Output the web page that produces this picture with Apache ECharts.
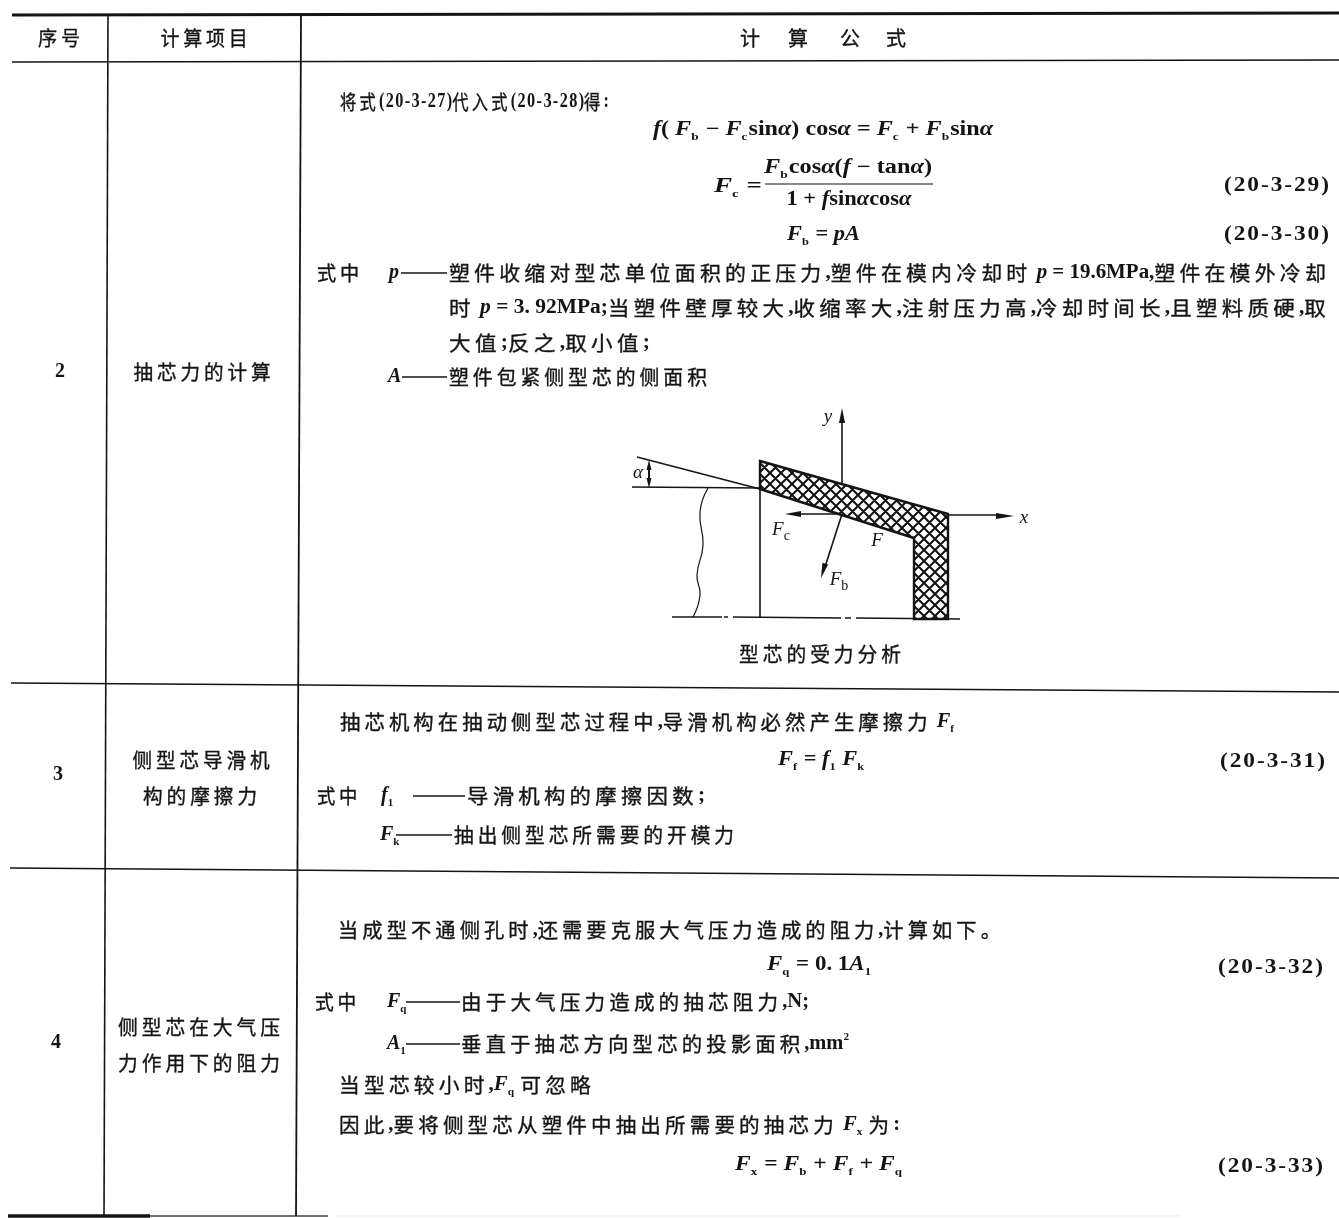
<!DOCTYPE html>
<html lang="zh">
<head>
<meta charset="utf-8">
<style>
html,body{margin:0;padding:0;background:#fff;}
#chart{width:1339px;height:1218px;filter:blur(0.5px);}
</style>
<script src="https://cdn.jsdelivr.net/npm/echarts@6/dist/echarts.min.js"></script>
</head>
<body>
<div id="chart"></div>
<script>
/* ---------- content ---------- */
const tableHeaders = ['序号', '计算项目', '计', '算', '公', '式'];
const serialNumbers = ['2', '3', '4'];
const itemNames = ['抽芯力的计算', '侧型芯导滑机', '构的摩擦力', '侧型芯在大气压', '力作用下的阻力'];
const equationNumbers = ['(20-3-29)', '(20-3-30)', '(20-3-31)', '(20-3-32)', '(20-3-33)'];
const row2Lines = [
  '将式(20-3-27)代入式(20-3-28)得:',
  '*f*( *F*~b~ − *F*~c~sin*α*) cos*α* = *F*~c~ + *F*~b~sin*α*',
  '*F*~c~ =',
  '*F*~b~cos*α*(*f* − tan*α*)',
  '1 + *f*sin*α*cos*α*',
  '*F*~b~ = *pA*',
  '式中',
  '*p*',
  '塑件收缩对型芯单位面积的正压力,塑件在模内冷却时 *p* = 19.6MPa,塑件在模外冷却',
  '时 *p* = 3. 92MPa;当塑件壁厚较大,收缩率大,注射压力高,冷却时间长,且塑料质硬,取',
  '大值;反之,取小值;',
  '*A*',
  '塑件包紧侧型芯的侧面积'
];
const row3Lines = [
  '抽芯机构在抽动侧型芯过程中,导滑机构必然产生摩擦力 *F*~f~',
  '*F*~f~ = *f*~1~ *F*~k~',
  '式中',
  '*f*~1~',
  '导滑机构的摩擦因数;',
  '*F*~k~',
  '抽出侧型芯所需要的开模力'
];
const row4Lines = [
  '当成型不通侧孔时,还需要克服大气压力造成的阻力,计算如下。',
  '*F*~q~ = 0. 1*A*~1~',
  '式中',
  '*F*~q~',
  '由于大气压力造成的抽芯阻力,N;',
  '*A*~1~',
  '垂直于抽芯方向型芯的投影面积,mm^2^',
  '当型芯较小时,*F*~q~ 可忽略',
  '因此,要将侧型芯从塑件中抽出所需要的抽芯力 *F*~x~ 为:',
  '*F*~x~ = *F*~b~ + *F*~f~ + *F*~q~'
];
const figureCaption = '型芯的受力分析';
const figureLabels = ['y', 'α', 'x', 'F', 'F', 'F'];

/* ---------- layout ---------- */
const INK = '#141414';
const CJK = '"Noto Sans CJK SC"';
const SERIF = '"Liberation Serif"';
const richStyles = {
  c: {fontFamily: CJK, fontSize: 20, fill: INK, stroke: INK, lineWidth: 0.35},
  l: {fontFamily: SERIF, fontSize: 20, fontWeight: 'bold', fill: INK},
  i: {fontFamily: SERIF, fontSize: 20, fontWeight: 'bold', fontStyle: 'italic', fill: INK},
  s: {fontFamily: SERIF, fontSize: 11, fontWeight: 'bold', fill: INK, verticalAlign: 'bottom', lineHeight: 25},
  u: {fontFamily: SERIF, fontSize: 11, fontWeight: 'bold', fill: INK, verticalAlign: 'top', lineHeight: 25}
};
const isCjk = ch => /[\u3000-\u9fff]/.test(ch);
const join = (s, sep) => Array.from(s).join(sep);
function plainRuns(s, sep) {
  let out = '', buf = '', kind = null;
  const flush = () => {
    if (!buf) return;
    out += kind === 'c' ? '{c|' + join(buf, '\u2009') + '\u2009}' : '{l|' + (sep ? join(buf, sep) : buf) + '}';
    buf = '';
  };
  for (const ch of s) {
    const k = isCjk(ch) ? 'c' : 'l';
    if (k !== kind) { flush(); kind = k; }
    buf += ch;
  }
  flush();
  return out;
}
function markup(s, sep) {
  return s.replace(/\*([^*]+)\*|~([^~]+)~|\^([^^]+)\^|([^*~^]+)/g, (m, it, sub, sup, plain) => {
    if (it) return '{i|' + it + '}';
    if (sub) return '{s|' + sub + '\u200a}';
    if (sup) return '{u|' + sup + '}';
    return plainRuns(plain, sep);
  });
}
const measureCtx = document.createElement('canvas').getContext('2d');
function measure(rich) {
  let w = 0;
  rich.replace(/\{(\w)\|([^}]*)\}/g, (m, k, t) => {
    const st = richStyles[k];
    measureCtx.font = (st.fontStyle || 'normal') + ' ' + (st.fontWeight || 'normal') + ' ' + st.fontSize + 'px ' + st.fontFamily;
    w += measureCtx.measureText(t).width;
    return m;
  });
  return w;
}
/* text at x, vertical middle y; w = width it occupies in the page */
function T(str, x, y, w, align) {
  const text = markup(str, str.indexOf('(20-3') >= 0 ? '\u200a' : '');
  return {
    type: 'text', x: x, y: y, z: 5, silent: true,
    scaleX: w ? w / measure(text) : 1,
    style: {
      text: text, rich: richStyles, align: align || 'left', verticalAlign: 'middle',
      fill: INK, fontFamily: SERIF, fontSize: 20
    }
  };
}
function L(x1, y1, x2, y2, w, c) {
  return {type: 'line', z: 3, silent: true, shape: {x1, y1, x2, y2},
          style: {stroke: c || INK, lineWidth: w || 1.5}};
}
function arrow(x, y, dx, dy, len, half) {
  const n = Math.hypot(dx, dy), ux = dx / n, uy = dy / n;
  return {type: 'polygon', z: 6, silent: true,
    shape: {points: [[x, y], [x - ux * len - uy * half, y - uy * len + ux * half],
                     [x - ux * len + uy * half, y - uy * len - ux * half]]},
    style: {fill: INK}};
}
function hatchPattern() {
  const c = document.createElement('canvas'); c.width = 11; c.height = 11;
  const g = c.getContext('2d');
  g.fillStyle = '#fff'; g.fillRect(0, 0, 11, 11);
  g.strokeStyle = '#141414'; g.lineWidth = 2.1;
  g.beginPath();
  for (let k = -11; k <= 22; k += 11) {
    g.moveTo(k, 0); g.lineTo(k + 11, 11);
    g.moveTo(k + 11, 0); g.lineTo(k, 11);
  }
  g.stroke();
  return c;
}

const els = [];
/* rules */
els.push(L(12, 15, 1339, 13, 3));
els.push(L(12, 62, 1339, 60, 1.7));
els.push(L(11, 683, 1339, 692, 1.7));
els.push(L(10, 868, 1339, 878, 1.7));
els.push(L(8, 1216, 150, 1216, 3.4), L(150, 1216, 328, 1216, 1.6, '#444'), L(335, 1216, 1180, 1216, 1, '#e6e6e6'));
els.push(L(108, 15, 104, 1216, 1.6));
els.push(L(301, 15, 296, 1216, 1.8));
/* header */
els.push(T(tableHeaders[0], 61, 38, 46, 'center'), T(tableHeaders[1], 206, 38, 91, 'center'));
[752, 800, 852, 898].forEach((x, i) => els.push(T(tableHeaders[i + 2], x, 38, 0, 'center')));
/* serials + items */
[[60, 372], [58, 775], [56, 1043]].forEach((p, i) => els.push(T(serialNumbers[i], p[0], p[1], 0, 'center')));
[[204, 372, 141], [203, 760, 141], [202, 796, 118], [201, 1027, 166], [201, 1063, 166]]
  .forEach((p, i) => els.push(T(itemNames[i], p[0], p[1], p[2], 'center')));
/* equation numbers */
[[186, 1329], [235, 1329], [762, 1325], [968, 1323], [1167, 1323]].forEach((p, i) => {
  els.push(T(equationNumbers[i], p[1], p[0], 105, 'right'));
});
/* dashes */
const dash = (x1, x2, y) => L(x1, y, x2, y, 1.4);
els.push(dash(401, 447, 273), dash(402, 447, 377), dash(413, 465, 796), dash(396, 452, 835), dash(406, 460, 1002), dash(406, 460, 1044));
/* row 2 */
const row2Pos = [[340, 102, 269], [653, 130, 340], [714, 187, 48], [848, 168, 168, 'center'], [849, 200, 125, 'center'], [787, 235, 73],
  [317, 273, 46], [389, 273], [449, 273, 881], [449, 308, 881], [449, 343, 201], [388, 377], [449, 377, 262]];
row2Lines.forEach((s, i) => { const p = row2Pos[i]; els.push(T(s, p[0], p[1], p[2], p[3])); });
els.push(L(765, 184, 933, 184, 1.2));
/* row 3 */
const row3Pos = [[340, 722, 615], [778, 760, 87], [317, 796, 44], [381, 796], [467, 796, 238], [380, 835], [454, 835, 284]];
row3Lines.forEach((s, i) => { const p = row3Pos[i]; els.push(T(s, p[0], p[1], p[2])); });
/* row 4 */
const row4Pos = [[338, 930, 667], [767, 965, 105], [315, 1002, 45], [387, 1002], [461, 1002, 348], [387, 1044], [461, 1044, 388], [339, 1085, 256], [339, 1125, 561], [735, 1165, 168]];
row4Lines.forEach((s, i) => { const p = row4Pos[i]; els.push(T(s, p[0], p[1], p[2])); });

/* figure */
els.push({type: 'polygon', z: 4, silent: true,
  shape: {points: [[760, 461], [948, 514], [948, 619], [914, 619], [914, 538], [760, 489]]},
  style: {fill: {image: hatchPattern(), repeat: 'repeat'}, stroke: INK, lineWidth: 2.4}});
els.push(L(637, 457, 760, 489, 1.5), L(632, 487, 760, 488, 1.5), L(760, 461, 760, 618, 1.6));
els.push(L(672, 617, 722, 617, 1.5), L(724, 617, 728, 617, 1.5), L(733, 617, 841, 618, 1.5),
         L(845, 618, 851, 618, 1.5), L(856, 618, 960, 619, 1.5));
els.push(L(842, 514, 842, 420, 1.6), arrow(842, 408, 0, -1, 15, 3));
els.push(L(842, 514, 795, 514, 1.6), arrow(785, 514, -1, 0, 16, 3));
els.push(L(948, 515, 1000, 515, 1.6), arrow(1014, 516, 1, 0, 18, 3));
els.push(L(842, 514, 825, 567, 1.6), arrow(821, 578, -0.3, 1, 15, 3));
els.push(L(649, 469, 649, 478, 2), arrow(649, 460, 0, -1, 10, 2.5), arrow(649, 488, 0, 1, 10, 2.5));
els.push({type: 'polyline', z: 3, silent: true,
  shape: {points: [[708, 488], [700, 512], [703, 545], [697, 575], [700, 595], [693, 617]], smooth: 0.5},
  style: {stroke: INK, lineWidth: 1.2, fill: 'none'}});
const figItalic = {fontFamily: SERIF, fontStyle: 'italic', fontSize: 19, fill: INK};
const figSub = {fontFamily: SERIF, fontSize: 14, fill: INK, verticalAlign: 'bottom', lineHeight: 26};
const F = (txt, x, y) => ({type: 'text', x, y, z: 7, silent: true,
  style: {text: txt, rich: {i: figItalic, s: figSub}, align: 'center', verticalAlign: 'middle'}});
els.push(F('{i|' + figureLabels[0] + '}', 828, 417), F('{i|' + figureLabels[1] + '}', 638, 473),
         F('{i|' + figureLabels[2] + '}', 1024, 518),
         F('{i|' + figureLabels[3] + '}{s|c}', 781, 530), F('{i|' + figureLabels[4] + '}', 877, 541),
         F('{i|' + figureLabels[5] + '}{s|b}', 839, 580));
els.push(T(figureCaption, 822, 654, 166, 'center'));

const chart = echarts.init(document.getElementById('chart'), null, {renderer: 'canvas', width: 1339, height: 1218});
chart.setOption({
  backgroundColor: '#ffffff',
  animation: false,
  graphic: {elements: els}
});
</script>
</body>
</html>
